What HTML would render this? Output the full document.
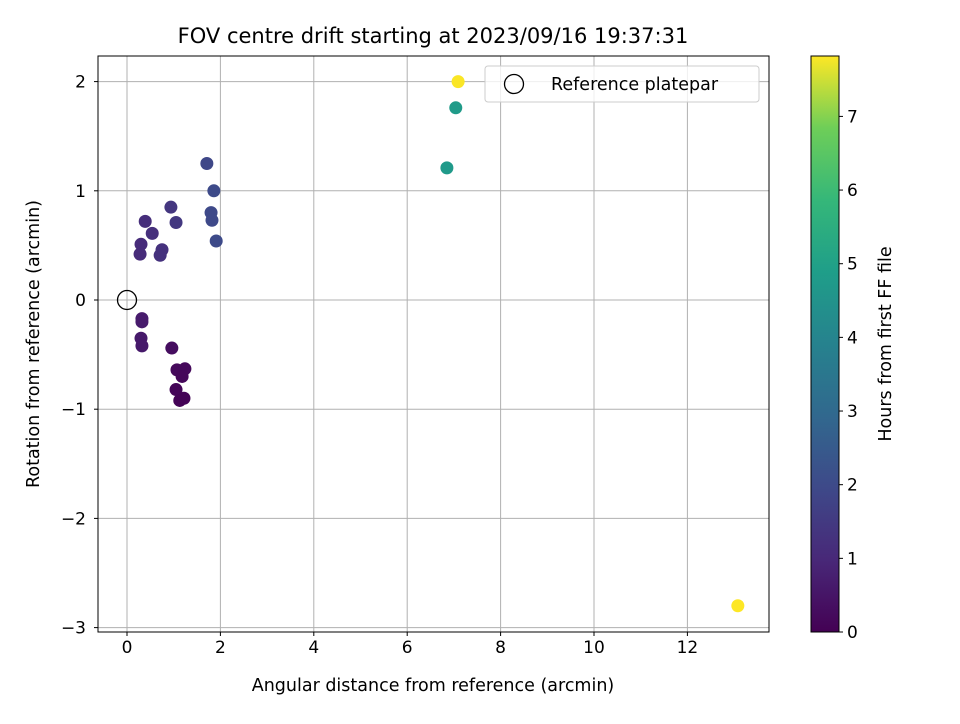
<!DOCTYPE html>
<html><head><meta charset="utf-8"><style>
body{margin:0;background:#fff;font-family:"DejaVu Sans","Liberation Sans",sans-serif}
text{font-family:"DejaVu Sans","Liberation Sans",sans-serif;fill:#000}
</style></head><body>
<svg id="chart" width="960" height="720" viewBox="0 0 960 720">
<defs><linearGradient id="vg" x1="0" y1="1" x2="0" y2="0">
<stop offset="0" stop-color="#440154"/><stop offset="0.125" stop-color="#482878"/><stop offset="0.25" stop-color="#3e4989"/><stop offset="0.375" stop-color="#31688e"/><stop offset="0.5" stop-color="#26828e"/><stop offset="0.625" stop-color="#1f9e89"/><stop offset="0.75" stop-color="#35b779"/><stop offset="0.875" stop-color="#6ece58"/><stop offset="1" stop-color="#fde725"/>
</linearGradient></defs>
<g id="grid"></g>
<g id="marks"></g>
<rect x="98" y="56" width="671" height="576" fill="none" stroke="#000" stroke-width="1"/>
<g id="axes"></g>
<text x="433" y="43" font-size="21" text-anchor="middle">FOV centre drift starting at 2023/09/16 19:37:31</text>
<text x="433" y="691" font-size="17.5" text-anchor="middle">Angular distance from reference (arcmin)</text>
<text transform="translate(39,344) rotate(-90)" font-size="17.5" text-anchor="middle">Rotation from reference (arcmin)</text>
<g>
<rect x="485" y="66" width="274" height="36" rx="3" fill="#fff" fill-opacity="0.8" stroke="#ccc"/>
<circle cx="514" cy="84" r="9.5" fill="none" stroke="#000" stroke-width="1.3"/>
<text x="551" y="90" font-size="17.5">Reference platepar</text>
</g>
<rect x="811" y="56" width="28" height="576" fill="url(#vg)" stroke="#000" stroke-width="1"/>
<g id="cbar"></g>
<text transform="translate(891,344) rotate(-90)" font-size="17.5" text-anchor="middle">Hours from first FF file</text>
</svg>
<script>
const xs=[1.71,1.86,1.80,1.82,1.91,0.94,1.05,0.39,0.54,0.30,0.28,0.75,0.71,0.32,0.32,0.30,0.32,0.96,1.07,1.24,1.18,1.05,1.13,1.22,6.85,7.04,7.09,13.08];
const ys=[1.25,1.00,0.80,0.73,0.54,0.85,0.71,0.72,0.61,0.51,0.42,0.46,0.41,-0.17,-0.20,-0.35,-0.42,-0.44,-0.64,-0.63,-0.70,-0.82,-0.92,-0.90,1.21,1.76,2.00,-2.80];
const hours=[1.9,2.0,1.95,1.95,2.0,1.4,1.45,1.15,1.2,1.1,1.1,1.25,1.25,0.65,0.65,0.6,0.6,0.3,0.2,0.2,0.15,0.1,0.05,0.05,4.75,4.8,7.8,7.82];
const xTicks=[0,2,4,6,8,10,12];
const yTicks=[-3,-2,-1,0,1,2];
const cTicks=[0,1,2,3,4,5,6,7];
const cMax=7.82;
const X=v=>127+46.7*v, Y=v=>300-109.2*v, C=v=>632-576*v/cMax;
const NS="http://www.w3.org/2000/svg";
function mk(p,t,a){const e=document.createElementNS(NS,t);for(const k in a)e.setAttribute(k,a[k]);p.appendChild(e);return e;}
const vir=[[68,1,84],[72,40,120],[62,73,137],[49,104,142],[38,130,142],[31,158,137],[53,183,121],[110,206,88],[253,231,37]];
function col(v){let t=Math.max(0,Math.min(1,v/cMax))*8;let i=Math.min(7,Math.floor(t)),f=t-i;const a=vir[i],b=vir[i+1];return `rgb(${a.map((c,j)=>Math.round(c+(b[j]-c)*f)).join(',')})`;}
const g=document.getElementById('grid'),ax=document.getElementById('axes'),m=document.getElementById('marks'),cb=document.getElementById('cbar');
xTicks.forEach(t=>{const l=mk(g,'line',{x1:X(t),x2:X(t),y1:56,y2:632,stroke:'#b0b0b0','stroke-width':1});

mk(ax,'line',{x1:X(t),x2:X(t),y1:632,y2:636,stroke:'#000'});
const tx=mk(ax,'text',{x:X(t),y:653,'font-size':17,'text-anchor':'middle'});tx.textContent=t;
});
yTicks.forEach(t=>{const l=mk(g,'line',{x1:98,x2:769,y1:Y(t),y2:Y(t),stroke:'#b0b0b0','stroke-width':1});

mk(ax,'line',{x1:94,x2:98,y1:Y(t),y2:Y(t),stroke:'#000'});
const tx=mk(ax,'text',{x:86,y:Y(t)+6,'font-size':17,'text-anchor':'end'});tx.textContent=t<0?'\u2212'+(-t):t;
});
cTicks.forEach(t=>{mk(cb,'line',{x1:839,x2:843,y1:C(t),y2:C(t),stroke:'#000'});
const tx=mk(cb,'text',{x:847,y:C(t)+6,'font-size':17});tx.textContent=t;
});
xs.forEach((x,i)=>{const c=mk(m,'circle',{cx:X(x),cy:Y(ys[i]),r:6.5,fill:col(hours[i])});
});
const ref=mk(m,'circle',{cx:X(0),cy:Y(0),r:9.5,fill:'none',stroke:'#000','stroke-width':1.3});

</script>
</body></html>
